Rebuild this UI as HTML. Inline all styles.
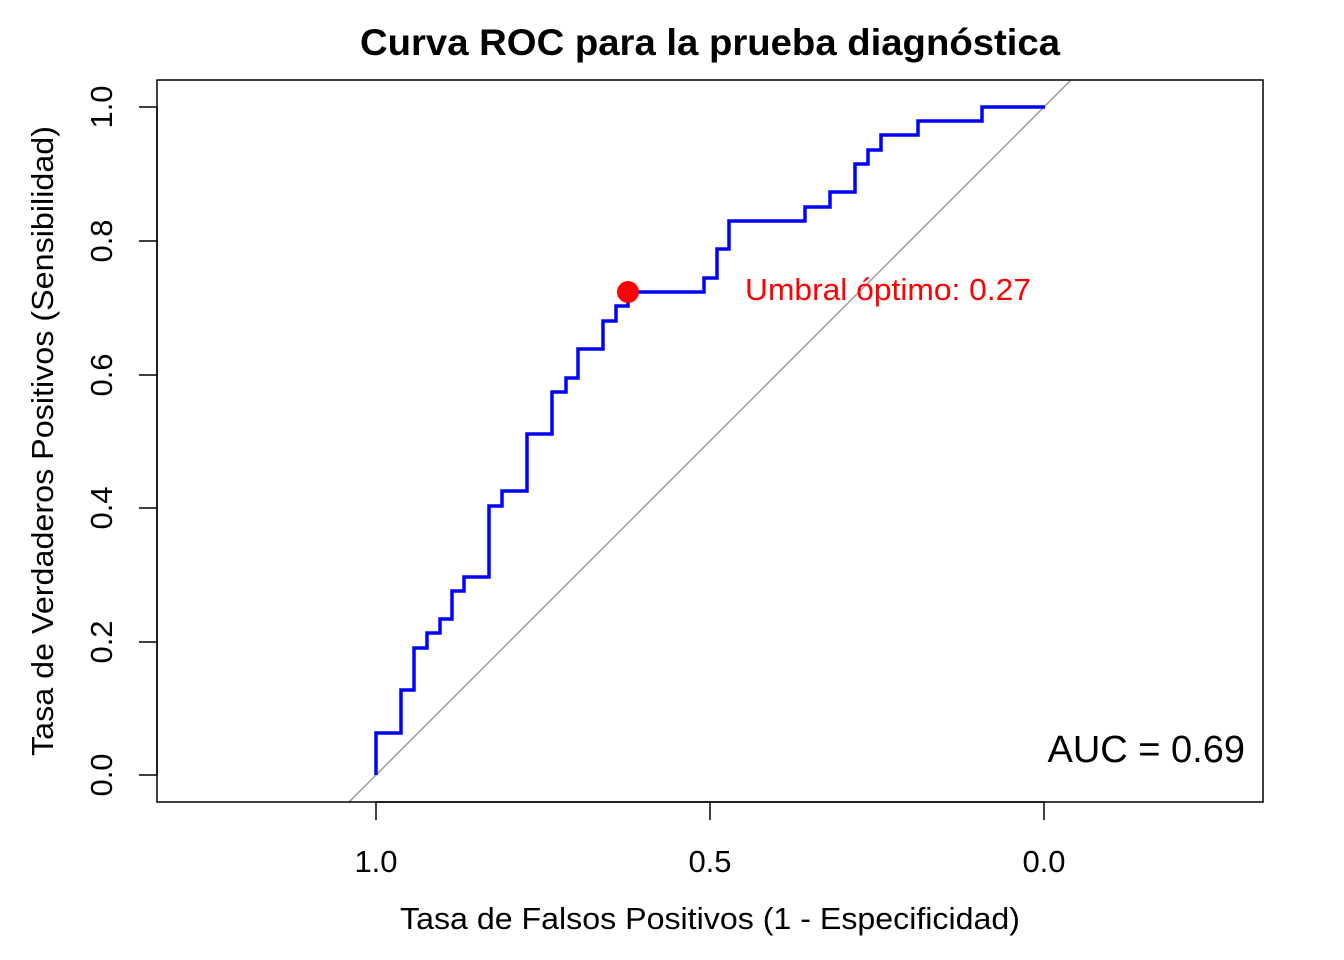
<!DOCTYPE html>
<html><head><meta charset="utf-8"><style>body{margin:0;background:#fff}svg{display:block}</style></head><body>
<svg width="1344" height="960" xmlns="http://www.w3.org/2000/svg" font-family="Liberation Sans, Arial, sans-serif">
<rect width="1344" height="960" fill="#fff"/>
<defs><clipPath id="c"><rect x="157" y="80" width="1106" height="722"/></clipPath></defs>
<line x1="349" y1="802" x2="1071" y2="80" stroke="#999" stroke-width="1.5" clip-path="url(#c)"/>
<polyline fill="none" stroke="#0000ff" stroke-width="3.5" points="376,775 376,733 401,733 401,690 414,690 414,648 427,648 427,633 440,633 440,619 452,619 452,591 464,591 464,577 489,577 489,506 502,506 502,491 527,491 527,434 552,434 552,392 566,392 566,378 578,378 578,349 603,349 603,321 616,321 616,306 628,306 628,292 704,292 704,278 717,278 717,249 729,249 729,221 805,221 805,207 830,207 830,192 855,192 855,164 868,164 868,150 881,150 881,135 918,135 918,121 982,121 982,107 1045,107"/>
<circle cx="628" cy="292" r="11" fill="#ff0000"/>
<text x="745" y="300" font-size="31" fill="#ff0000" textLength="286" lengthAdjust="spacingAndGlyphs">Umbral óptimo: 0.27</text>
<text x="1245" y="762" font-size="38" text-anchor="end">AUC = 0.69</text>
<rect x="157" y="80" width="1106" height="722" fill="none" stroke="#000" stroke-width="1.5"/>
<g stroke="#000" stroke-width="1.5">
<line x1="376" y1="802" x2="1044" y2="802"/>
<line x1="376" y1="802" x2="376" y2="820"/><line x1="710" y1="802" x2="710" y2="820"/><line x1="1044" y1="802" x2="1044" y2="820"/>
<line x1="157" y1="107" x2="157" y2="775"/>
<line x1="139" y1="775" x2="157" y2="775"/><line x1="139" y1="642" x2="157" y2="642"/><line x1="139" y1="508" x2="157" y2="508"/><line x1="139" y1="375" x2="157" y2="375"/><line x1="139" y1="241" x2="157" y2="241"/><line x1="139" y1="107" x2="157" y2="107"/>
</g>
<g font-size="31" text-anchor="middle">
<text x="376" y="872">1.0</text><text x="710" y="872">0.5</text><text x="1044" y="872">0.0</text>
<text transform="translate(112,775) rotate(-90)">0.0</text>
<text transform="translate(112,642) rotate(-90)">0.2</text>
<text transform="translate(112,508) rotate(-90)">0.4</text>
<text transform="translate(112,375) rotate(-90)">0.6</text>
<text transform="translate(112,241) rotate(-90)">0.8</text>
<text transform="translate(112,107) rotate(-90)">1.0</text>
<text x="710" y="929" textLength="620" lengthAdjust="spacingAndGlyphs">Tasa de Falsos Positivos (1 - Especificidad)</text>
<text transform="translate(53,441) rotate(-90)" textLength="630" lengthAdjust="spacingAndGlyphs">Tasa de Verdaderos Positivos (Sensibilidad)</text>
</g>
<text x="710" y="55" font-size="37" font-weight="bold" text-anchor="middle" textLength="700" lengthAdjust="spacingAndGlyphs">Curva ROC para la prueba diagnóstica</text>
</svg>
</body></html>
